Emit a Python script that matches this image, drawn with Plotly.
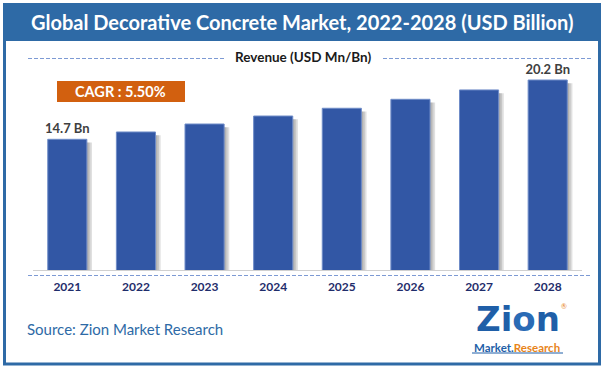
import plotly.graph_objects as go

years = ["2021", "2022", "2023", "2024", "2025", "2026", "2027", "2028"]
revenue = [14.7, 15.38, 16.12, 16.86, 17.58, 18.41, 19.28, 20.2]
value_labels = ["14.7 Bn", "", "", "", "", "", "", "20.2 Bn"]
title_text = "Global Decorative Concrete Market, 2022-2028 (USD Billion)"
axis_title = "Revenue (USD Mn/Bn)"
cagr_text = "CAGR : 5.50%"
source_text = "Source: Zion Market Research"

W, H = 605, 370
L, R, T, B = 33, 23, 62, 100
PW, PH = W - L - R, H - T - B
FONT = "Lato, Carlito, Open Sans, sans-serif"
BAR = "#3257a5"
FRAME = "#2e6aa6"
DASH = "4px,2px"

def px(x):
    return (x - L) / PW

def py(y):
    return (H - B - y) / PH

fig = go.Figure()

# soft drop shadows
for k, off in enumerate([0.075, 0.05, 0.025]):
    fig.add_trace(go.Bar(
        x=years, y=[v - 0.3 for v in revenue],
        width=0.57, offset=-0.285 + off,
        marker=dict(color="rgba(60,60,60,0.16)", line=dict(width=0)),
        hoverinfo="skip", showlegend=False,
    ))

fig.add_trace(go.Bar(
    x=years, y=revenue,
    width=0.57, offset=-0.285,
    marker=dict(color=BAR, line=dict(color="#6f8cc8", width=1)),
    text=value_labels, textposition="outside", cliponaxis=False, constraintext="none",
    textfont=dict(family=FONT, size=13, color="#404040", weight="bold"),
    showlegend=False,
))

shapes = [
    # outer frame
    dict(type="rect", xref="paper", yref="paper", x0=px(4.5), x1=px(599.5), y0=py(364), y1=py(4.5),
         line=dict(color=FRAME, width=3), fillcolor="rgba(0,0,0,0)", layer="below"),
    # title band
    dict(type="rect", xref="paper", yref="paper", x0=px(4), x1=px(600), y0=py(41), y1=py(4),
         line=dict(width=0), fillcolor=FRAME),
    # top dashed lines
    dict(type="line", xref="paper", yref="paper", x0=px(28), x1=px(224), y0=py(58.5), y1=py(58.5),
         line=dict(color="#7d9ad4", width=1, dash=DASH)),
    dict(type="line", xref="paper", yref="paper", x0=px(383), x1=px(592), y0=py(58.5), y1=py(58.5),
         line=dict(color="#7d9ad4", width=1, dash=DASH)),
    # bottom dashed line
    dict(type="line", xref="paper", yref="paper", x0=px(28), x1=px(592), y0=py(275.5), y1=py(275.5),
         line=dict(color="#7d9ad4", width=1, dash=DASH)),
    # CAGR box
    dict(type="rect", xref="paper", yref="paper", x0=px(57), x1=px(185), y0=py(102), y1=py(81),
         line=dict(width=0), fillcolor="#d2600f"),
    # logo underline
    dict(type="line", xref="paper", yref="paper", x0=px(472), x1=px(563), y0=py(353), y1=py(353),
         line=dict(color="#1f5fa8", width=1)),
]

annotations = [
    dict(text=f"<b>{title_text}</b>", x=px(302), y=py(22), xref="paper", yref="paper",
         showarrow=False, font=dict(family=FONT, size=20, color="white"), xanchor="center", yanchor="middle"),
    dict(text=f"<b>{axis_title}</b>", x=px(303), y=py(57), xref="paper", yref="paper",
         showarrow=False, font=dict(family=FONT, size=13.5, color="#1a1a1a"), xanchor="center", yanchor="middle"),
    dict(text=f"<b>{cagr_text}</b>", x=px(120), y=py(91.5), xref="paper", yref="paper",
         showarrow=False, font=dict(family=FONT, size=14.5, color="white"), xanchor="center", yanchor="middle"),
    dict(text=source_text, x=px(25), y=py(329), xref="paper", yref="paper",
         showarrow=False, font=dict(family=FONT, size=15, color="#2e6aa6"), xanchor="left", yanchor="middle"),
    dict(text="<b>Zi<span style='color:#2a6bb5'>o</span>n</b>", x=px(518), y=py(319), xref="paper", yref="paper",
         showarrow=False, font=dict(family="DejaVu Sans, sans-serif", size=34, color="#1f5fa8"),
         xanchor="center", yanchor="middle", borderpad=0),
    dict(text="<b>Market.<span style='color:#e8841a'>Research</span></b>", x=px(517), y=py(347), xref="paper", yref="paper",
         showarrow=False, font=dict(family=FONT, size=11.5, color="#1f5fa8"), xanchor="center", yanchor="middle",
         borderpad=0),
    dict(text="®", x=px(564), y=py(306), xref="paper", yref="paper",
         showarrow=False, font=dict(family=FONT, size=7, color="#e8841a"), xanchor="center", yanchor="middle"),
]

fig.update_layout(
    width=W, height=H,
    margin=dict(l=L, r=R, t=T, b=B),
    paper_bgcolor="white", plot_bgcolor="white",
    barmode="overlay",
    shapes=shapes, annotations=annotations,
    xaxis=dict(type="category", range=[-0.5, 7.5], showgrid=False, showline=True,
               linecolor="#d0d0d0", linewidth=1, ticks="", ticklabelstandoff=6,
               tickfont=dict(family=FONT, size=12, color="#1f2d6b", weight="bold"), fixedrange=True),
    yaxis=dict(range=[2.58, 21.87], visible=False, fixedrange=True),
)

fig.write_html("out.html", config={"displayModeBar": False},
               post_script="document.body.style.margin='0';")
